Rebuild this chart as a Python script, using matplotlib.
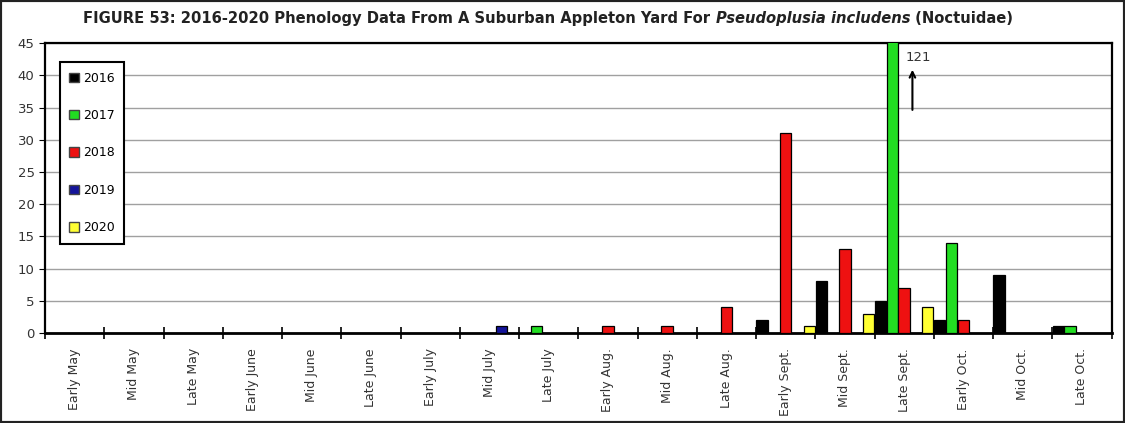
import numpy as np
import matplotlib.pyplot as plt
from matplotlib.patches import Patch, Rectangle

periods = ['Early May', 'Mid May', 'Late May', 'Early June', 'Mid June', 'Late June',
           'Early July', 'Mid July', 'Late July', 'Early Aug.', 'Mid Aug.', 'Late Aug.',
           'Early Sept.', 'Mid Sept.', 'Late Sept.', 'Early Oct.', 'Mid Oct.', 'Late Oct.']

y2016 = [0, 0, 0, 0, 0, 0, 0, 0, 0, 0, 0, 0, 2, 8, 5, 2, 9, 1]
y2017 = [0, 0, 0, 0, 0, 0, 0, 0, 1, 0, 0, 0, 0, 0, 121, 14, 0, 1]
y2018 = [0, 0, 0, 0, 0, 0, 0, 0, 0, 1, 1, 4, 31, 13, 7, 2, 0, 0]
y2019 = [0, 0, 0, 0, 0, 0, 0, 1, 0, 0, 0, 0, 0, 0, 0, 0, 0, 0]
y2020 = [0, 0, 0, 0, 0, 0, 0, 0, 0, 0, 0, 0, 1, 3, 4, 0, 0, 0]

years = ['2016', '2017', '2018', '2019', '2020']
series = [y2016, y2017, y2018, y2019, y2020]
colors = ['#000000', '#22dd22', '#ee1111', '#14149a', '#ffff33']

fig = plt.figure(figsize=(11.25, 4.23), dpi=100)
ax = fig.add_axes([0.040, 0.213, 0.948, 0.685])

x = np.arange(len(periods)) + 0.5
w = 0.19
for j, (vals, c) in enumerate(zip(series, colors)):
    vals = np.array(vals, dtype=float)
    mask = vals > 0
    ax.bar(x[mask] + (j - 2) * 0.2, vals[mask], width=w, color=c,
           edgecolor='black', linewidth=0.9, zorder=3)

ax.set_xlim(0, len(periods))
ax.set_ylim(0, 45)
ax.set_yticks(range(0, 46, 5))
ax.yaxis.grid(True, color='#a0a0a0', linewidth=1.0, zorder=0)
ax.set_xticks(range(0, len(periods) + 1))
ax.set_xticklabels([])
ax.set_xticks(x, minor=True)
ax.set_xticklabels(periods, minor=True, rotation=90, fontsize=9, color='#333333')
ax.tick_params(axis='x', which='major', direction='inout', length=9, width=1.2)
ax.tick_params(axis='x', which='minor', length=0, pad=11)
ax.tick_params(axis='y', direction='out', length=4, labelsize=9.5, labelcolor='#333333')
for s in ax.spines.values():
    s.set_linewidth(1.6)
ax.spines['bottom'].set_linewidth(2)

# annotation for the off-scale 2017 value
ax.annotate('', xy=(14.64, 41.3), xytext=(14.64, 34.2),
            arrowprops=dict(arrowstyle='->', color='black', lw=1.5))
ax.text(14.53, 42.7, '121', fontsize=9.5, color='#333333', ha='left', va='center')

handles = [Patch(facecolor=c, edgecolor='#444444', label=yr) for yr, c in zip(years, colors)]
leg = ax.legend(handles=handles, loc='upper left', bbox_to_anchor=(0.014, 0.934),
                borderaxespad=0, fontsize=9, handlelength=0.8, handleheight=0.8,
                handletextpad=0.3, labelspacing=1.95, borderpad=0.75, fancybox=False,
                framealpha=1, edgecolor='black')
leg.get_frame().set_linewidth(1.5)

ty = 0.957
fig.text(0.074, ty, 'FIGURE 53: 2016-2020 Phenology Data From A Suburban Appleton Yard For ',
         fontsize=10.6, fontweight='bold', color='#222222', ha='left', va='center')
fig.canvas.draw()
x1 = fig.texts[0].get_window_extent().x1 / fig.bbox.width
t2 = fig.text(x1, ty, 'Pseudoplusia includens', fontsize=10.6, fontweight='bold',
              style='italic', color='#222222', ha='left', va='center')
fig.canvas.draw()
x2 = t2.get_window_extent().x1 / fig.bbox.width
fig.text(x2, ty, ' (Noctuidae)', fontsize=10.6, fontweight='bold', color='#222222',
         ha='left', va='center')

fig.patches.append(Rectangle((0, 0), 1, 1, transform=fig.transFigure, fill=False,
                             edgecolor='#222222', linewidth=3))

fig.savefig('out.png', dpi=100)
